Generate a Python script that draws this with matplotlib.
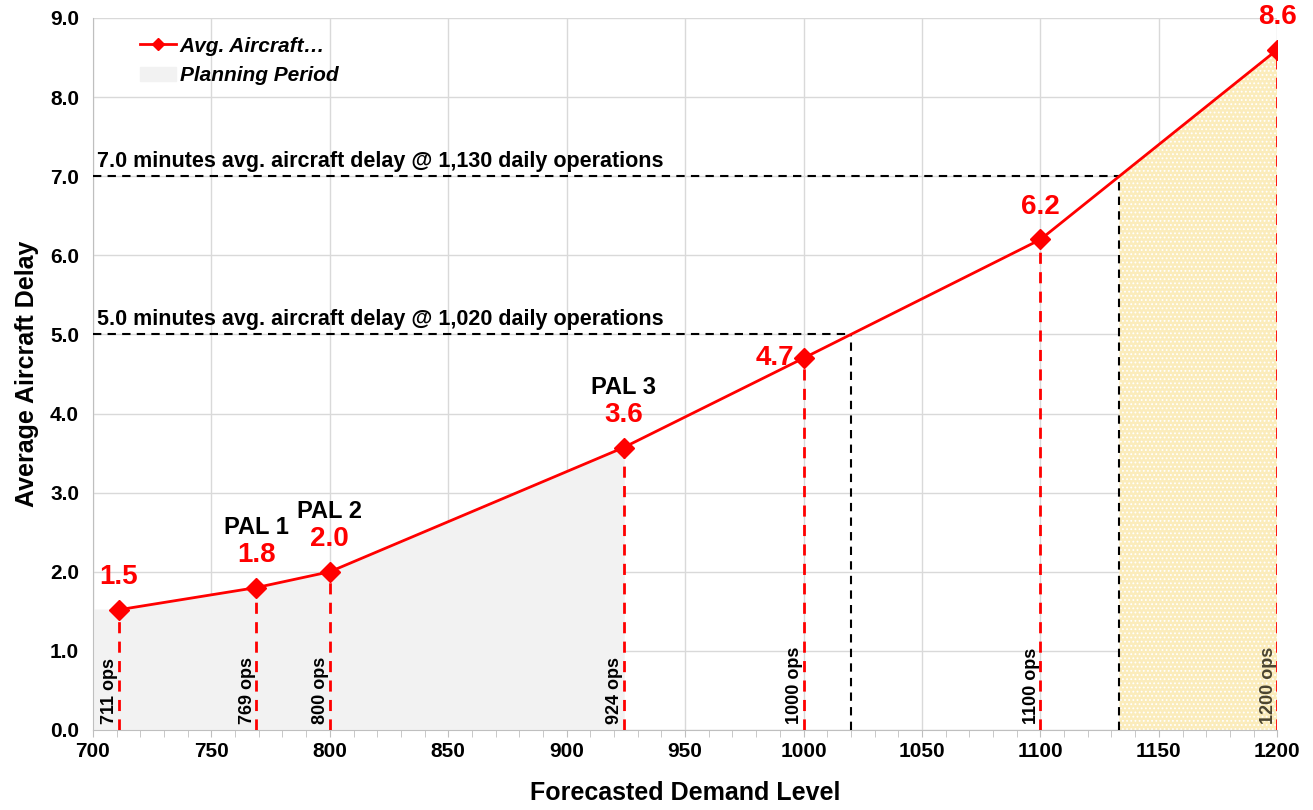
import matplotlib.pyplot as plt
import numpy as np
from matplotlib.ticker import MultipleLocator

plt.rcParams['font.family'] = ['Liberation Sans', 'DejaVu Sans']
plt.rcParams['hatch.color'] = 'white'
plt.rcParams['hatch.linewidth'] = 0.8

ops = [711, 769, 800, 924, 1000, 1100, 1200]
delay = [1.52, 1.8, 2.0, 3.57, 4.7, 6.2, 8.6]
value_labels = ['1.5', '1.8', '2.0', '3.6', '4.7', '6.2', '8.6']
pal_labels = {769: 'PAL 1', 800: 'PAL 2', 924: 'PAL 3'}
thresholds = [7.0, 5.0]
threshold_text = ['7.0 minutes avg. aircraft delay @ 1,130 daily operations',
                  '5.0 minutes avg. aircraft delay @ 1,020 daily operations']
planning_end = 924

red = '#ff0000'

fig = plt.figure(figsize=(13.13, 8.10), dpi=100)
ax = fig.add_axes([0.0708, 0.0988, 0.902, 0.879])

ax.set_xlim(700, 1200)
ax.set_ylim(0, 9)
ax.xaxis.set_major_locator(MultipleLocator(50))
ax.xaxis.set_minor_locator(MultipleLocator(10))
ax.yaxis.set_major_locator(MultipleLocator(1))
ax.grid(True, which='major', color='#d9d9d9', lw=1, zorder=0)
ax.set_axisbelow(True)
for s in ['top', 'right']:
    ax.spines[s].set_visible(False)
for s in ['left', 'bottom']:
    ax.spines[s].set_color('#bfbfbf')
ax.tick_params(axis='x', which='both', colors='#bfbfbf', direction='out', length=5)
ax.tick_params(axis='y', length=0)
ax.set_xticks(np.arange(700, 1201, 50))
ax.set_xticklabels([str(v) for v in range(700, 1201, 50)], color='black',
                   fontsize=15, fontweight='bold')
ax.set_yticks(np.arange(0, 9.1, 1))
ax.set_yticklabels(['%.1f' % v for v in np.arange(0, 9.1, 1)], fontsize=15,
                   fontweight='bold')
ax.tick_params(axis='x', pad=4)
ax.tick_params(axis='y', pad=10)

# planning period shading (700 -> PAL 3)
xs = np.interp(np.linspace(711, planning_end, 200), ops, delay)
px = np.concatenate([[700], np.linspace(711, planning_end, 200)])
py = np.concatenate([[delay[0]], xs])
ax.fill_between(px, 0, py, color='#f2f2f2', zorder=1, label='Planning Period')

# intersection of threshold lines with the delay curve
cross = [np.interp(t, delay, ops) for t in thresholds]

# shaded area beyond the 7.0 minute threshold
sx = np.linspace(cross[0], 1200, 100)
sy = np.interp(sx, ops, delay)
ax.fill_between(sx, 0, sy, facecolor='#fbecbb', edgecolor='white', hatch='....',
                lw=0, zorder=2)

# op labels along the bottom
for x in ops:
    col = '#4a4430' if x == 1200 else 'black'
    ax.text(x - 0.3, 0.08, f'{x} ops', rotation=90, ha='right', va='bottom',
            fontsize=13, fontweight='bold', color=col, zorder=3)

# drop lines
for x, y in zip(ops, delay):
    ax.plot([x, x], [0, y], ls=(0, (4, 3)), color=red, lw=2, zorder=4)

for t, c, txt in zip(thresholds, cross, threshold_text):
    ax.plot([700, c], [t, t], ls=(0, (4, 3)), color='black', lw=1.5, zorder=4)
    ax.plot([c, c], [0, t], ls=(0, (4, 3)), color='black', lw=1.5, zorder=4)
    ax.text(701.5, t + 0.05, txt, fontsize=15.5, fontweight='bold', ha='left',
            va='bottom', zorder=5)

line, = ax.plot(ops, delay, color=red, lw=2, marker='D', markersize=10, zorder=6,
                label='Avg. Aircraft…')

# value labels
for x, y, lab in zip(ops, delay, value_labels):
    if lab == '4.7':
        ax.text(x - 4, y, lab, color=red, fontsize=20, fontweight='bold',
                ha='right', va='center', zorder=7)
    else:
        ax.text(x, y + 0.25, lab, color=red, fontsize=20, fontweight='bold',
                ha='center', va='bottom', zorder=7)
    if x in pal_labels:
        ax.text(x, y + 0.62, pal_labels[x], color='black', fontsize=17,
                fontweight='bold', ha='center', va='bottom', zorder=7)

ax.set_xlabel('Forecasted Demand Level', fontsize=18, fontweight='bold', labelpad=14)
ax.set_ylabel('Average Aircraft Delay', fontsize=18, fontweight='bold', labelpad=8)

handles, labels = ax.get_legend_handles_labels()
order = [labels.index('Avg. Aircraft…'), labels.index('Planning Period')]
ax.legend([handles[i] for i in order], [labels[i] for i in order],
          loc='upper left', bbox_to_anchor=(0.024, 1.0), frameon=False,
          prop={'weight': 'bold', 'style': 'italic', 'size': 15},
          handlelength=1.7, handletextpad=0.2, labelspacing=0.5,
          markerscale=0.6)

fig.savefig('out.png', dpi=100)
